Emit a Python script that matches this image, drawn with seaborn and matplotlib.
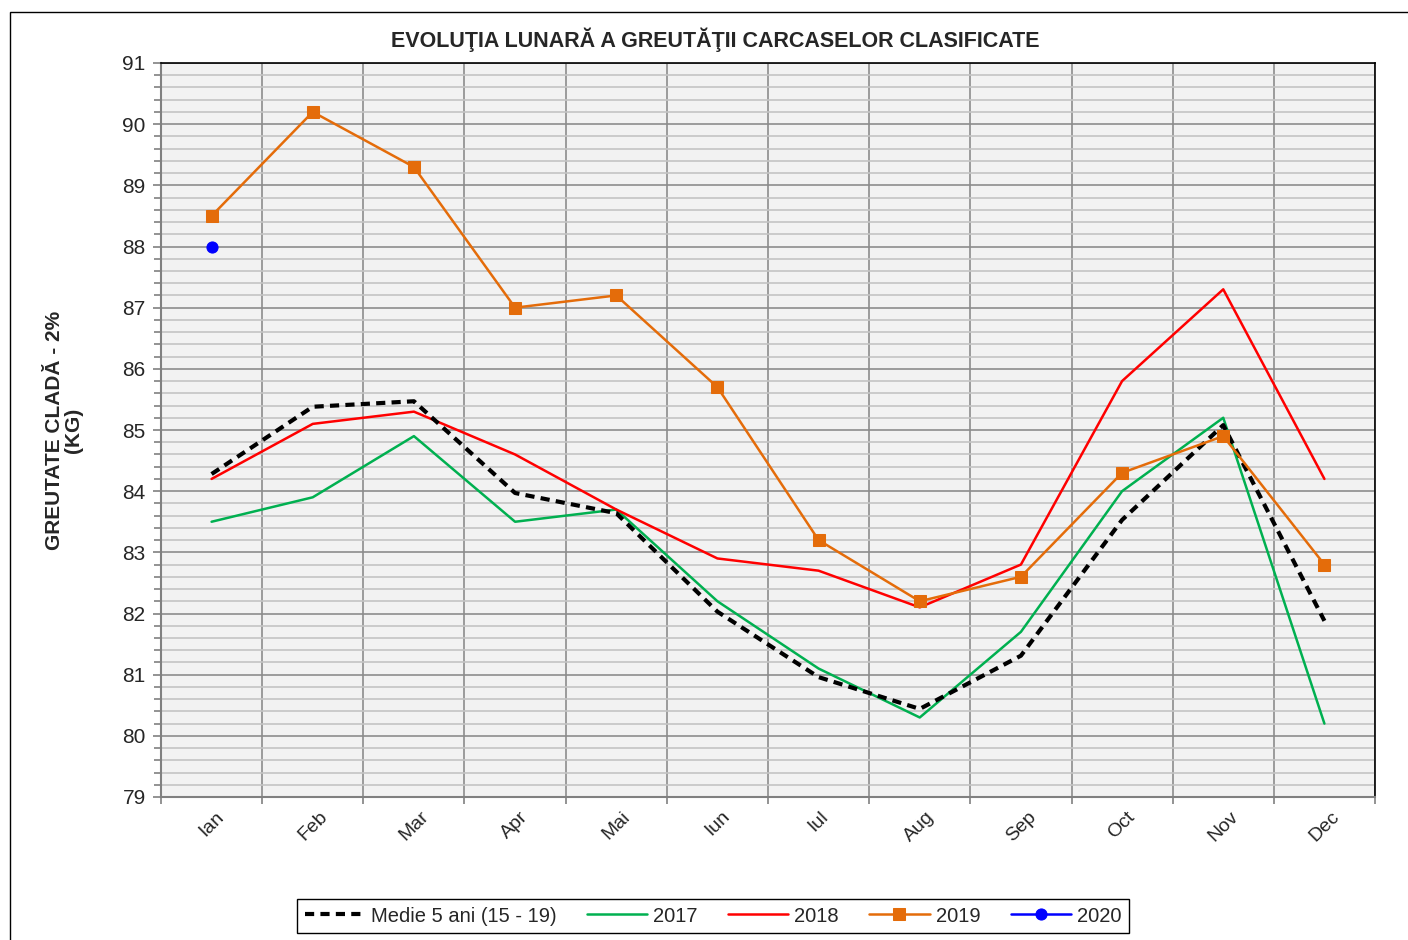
import numpy as np
import pandas as pd
import matplotlib
matplotlib.use("Agg")
import matplotlib.pyplot as plt
from matplotlib.ticker import MultipleLocator
from matplotlib.patches import Rectangle
import seaborn as sns

months = ["Ian", "Feb", "Mar", "Apr", "Mai", "Iun", "Iul", "Aug", "Sep", "Oct", "Nov", "Dec"]
medie = [84.28, 85.38, 85.47, 83.97, 83.64, 82.03, 80.96, 80.44, 81.31, 83.53, 85.08, 81.88]
y2017 = [83.5, 83.9, 84.9, 83.5, 83.7, 82.2, 81.1, 80.3, 81.7, 84.0, 85.2, 80.2]
y2018 = [84.2, 85.1, 85.3, 84.6, 83.7, 82.9, 82.7, 82.1, 82.8, 85.8, 87.3, 84.2]
y2019 = [88.5, 90.2, 89.3, 87.0, 87.2, 85.7, 83.2, 82.2, 82.6, 84.3, 84.9, 82.8]
y2020 = [88.0]

sns.set_theme(style="white")
plt.rcParams['font.family'] = ['Liberation Sans', 'DejaVu Sans']

fig = plt.figure(figsize=(14.08, 9.4), dpi=100)
ax = fig.add_axes([161/1408, 1-797/940, (1375-161)/1408, (797-63)/940])
ax.set_facecolor("#f2f2f2")

x = np.arange(len(months))
df_m = pd.DataFrame({"x": x, "y": medie})
sns.lineplot(data=df_m, x="x", y="y", ax=ax, color="black", lw=3, linestyle=(0, (2.2, 1.5)),
             label="Medie 5 ani (15 - 19)", zorder=5)
sns.lineplot(x=x, y=y2017, ax=ax, color="#00b050", lw=1.8, label="2017", zorder=4)
sns.lineplot(x=x, y=y2018, ax=ax, color="#ff0000", lw=1.8, label="2018", zorder=4)
sns.lineplot(x=x, y=y2019, ax=ax, color="#e46c0a", lw=1.8, marker="s", markersize=8,
             markeredgecolor="#e46c0a", label="2019", zorder=6)
sns.lineplot(x=x[:len(y2020)], y=y2020, ax=ax, color="#0000ff", lw=1.8, marker="o", markersize=8,
             markeredgecolor="#0000ff", label="2020", zorder=7)

ax.set_xlim(-0.5, 11.5)
ax.set_ylim(79, 91)
ax.yaxis.set_major_locator(MultipleLocator(1))
ax.yaxis.set_minor_locator(MultipleLocator(0.2))
ax.set_xticks(x)
ax.set_xticks(np.arange(-0.5, 12, 1), minor=True)
ax.set_xticklabels(months, rotation=45, fontsize=14)
ax.tick_params(axis="x", which="major", length=0, pad=8)
ax.tick_params(axis="x", which="minor", length=5, color="#808080", width=1.2, direction="out", bottom=True)
ax.tick_params(axis="y", which="major", length=6, color="#808080", width=1.2, labelsize=15, left=True,
               direction="out", pad=5)
ax.tick_params(axis="y", which="minor", length=5, color="#808080", width=1.2, left=True, direction="out")
for lab in ax.get_xticklabels():
    lab.set_ha("center")
    lab.set_va("top")

ax.grid(True, which="major", axis="y", color="#8c8c8c", lw=1.2, zorder=0)
ax.grid(True, which="minor", axis="y", color="#c4c4c4", lw=1.2, zorder=0)
ax.grid(True, which="minor", axis="x", color="#8c8c8c", lw=1.2, zorder=0)
ax.grid(False, which="major", axis="x")
ax.set_axisbelow(True)

for s in ["left", "bottom"]:
    ax.spines[s].set_color("#808080")
    ax.spines[s].set_linewidth(1.5)
for s in ["top", "right"]:
    ax.spines[s].set_color("black")
    ax.spines[s].set_linewidth(1.2)

ax.set_xlabel("")
ax.set_ylabel("GREUTATE CLADĂ - 2%\n(KG)", fontsize=15, fontweight="bold", labelpad=28, linespacing=1.0)

fig.text(715/1408, 1-40/940, "EVOLUŢIA LUNARĂ A GREUTĂŢII CARCASELOR CLASIFICATE",
         ha="center", va="center", fontsize=15.5, fontweight="bold")

handles, labels = ax.get_legend_handles_labels()
ax.get_legend().remove()
leg = fig.legend(handles, labels, loc="center", bbox_to_anchor=(713/1408, 1-916/940), ncol=5,
                 fontsize=14.5, frameon=True, fancybox=False, edgecolor="black", framealpha=1,
                 handlelength=3.0, columnspacing=1.5, handletextpad=0.3, borderpad=0.35)
leg.get_frame().set_linewidth(1.0)

fig.patches.append(Rectangle((10/1408, -0.05), 1.0, 1.05-12/940, transform=fig.transFigure,
                             fill=False, edgecolor="black", lw=1.0))

fig.savefig("out.png", dpi=100)
